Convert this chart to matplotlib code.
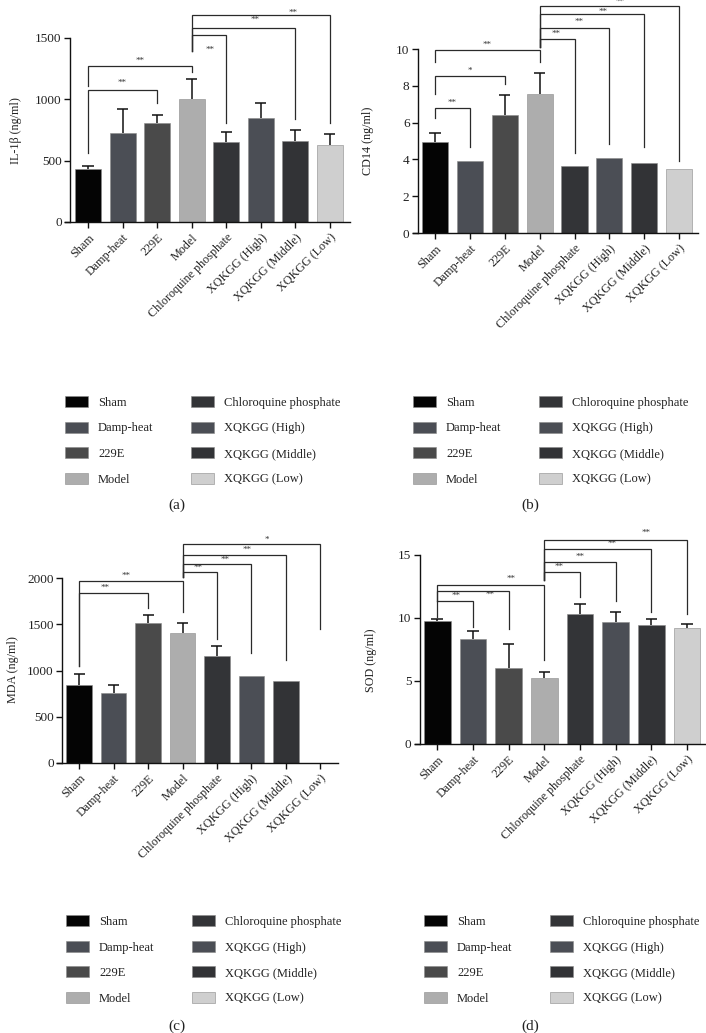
import matplotlib
matplotlib.use("Agg")
import matplotlib.pyplot as plt
from matplotlib.patches import Patch
import numpy as np

plt.rcParams['font.family'] = ['Liberation Serif', 'DejaVu Serif']

# ---------------- data ----------------
groups = ["Sham", "Damp-heat", "229E", "Model", "Chloroquine phosphate",
          "XQKGG (High)", "XQKGG (Middle)", "XQKGG (Low)"]
colors = ["#040404", "#4b4e55", "#4a4a4a", "#adadad", "#333437",
          "#4b4e55", "#323336", "#cfcfcf"]

il1b = [433, 723, 807, 1000, 656, 845, 661, 629]
il1b_err = [25, 200, 63, 163, 78, 128, 90, 92]

cd14 = [4.92, 3.90, 6.40, 7.55, 3.65, 4.08, 3.80, 3.50]
cd14_err = [0.53, 0, 1.10, 1.15, 0, 0, 0, 0]

mda = [846, 752, 1512, 1410, 1157, 944, 890, 0]
mda_err = [112, 91, 94, 109, 105, 0, 0, 0]

sod = [9.77, 8.34, 6.05, 5.20, 10.32, 9.66, 9.45, 9.19]
sod_err = [0.16, 0.64, 1.90, 0.48, 0.80, 0.79, 0.42, 0.34]

# significance brackets: (i, j, line height, leg i bottom, leg j bottom, label, label x, label y)
il1b_sig = [(0, 2, 1076, 560, 967, "**", 1.00, 1135),
            (0, 3, 1275, 1108, 1224, "**", 1.50, 1311),
            (3, 4, 1525, 1395, 804, "**", 3.53, 1400),
            (3, 6, 1584, 1395, 837, "**", 4.83, 1644),
            (3, 7, 1687, 1395, 804, "**", 5.94, 1703)]
cd14_sig = [(0, 1, 6.82, 6.23, 4.69, "**", 0.50, 7.08),
            (0, 2, 8.52, 7.53, 8.12, "*", 1.00, 8.81),
            (0, 3, 9.96, 9.30, 9.30, "**", 1.50, 10.23),
            (3, 4, 10.54, 10.10, 4.33, "**", 3.48, 10.83),
            (3, 5, 11.12, 10.10, 4.84, "**", 4.13, 11.46),
            (3, 6, 11.88, 10.10, 4.69, "**", 4.82, 12.04),
            (3, 7, 12.33, 10.10, 3.92, "**", 5.30, 12.55)]
mda_sig = [(0, 2, 1844, 1052, 1674, "**", 0.75, 1899),
           (0, 3, 1971, 1052, 1638, "**", 1.36, 2022),
           (3, 4, 2072, 2018, 1338, "**", 3.46, 2116),
           (3, 5, 2155, 2018, 1193, "**", 4.24, 2199),
           (3, 6, 2250, 2018, 1114, "**", 4.86, 2307),
           (3, 7, 2369, 2018, 1447, "*", 5.44, 2416)]
sod_sig = [(0, 1, 11.30, 10.09, 9.29, "**", 0.53, 11.72),
           (0, 2, 12.12, 11.30, 9.08, "**", 1.47, 11.80),
           (0, 3, 12.62, 11.30, 6.65, "**", 2.06, 13.07),
           (3, 4, 13.65, 12.99, 11.67, "**", 3.41, 14.00),
           (3, 5, 14.39, 12.99, 11.35, "**", 3.99, 14.79),
           (3, 6, 15.45, 12.99, 10.48, "**", 4.89, 15.84),
           (3, 7, 16.16, 12.99, 10.30, "**", 5.84, 16.69)]

# ---------------- layout ----------------
W, H = 706, 1033
fig = plt.figure(figsize=(W / 100, H / 100), dpi=100)


def rect(l, r, top, bot):
    return [l / W, 1 - bot / H, (r - l) / W, (bot - top) / H]


panels = [
    dict(vals=il1b, err=il1b_err, sig=il1b_sig, ylabel="IL-1β (ng/ml)",
         r=(65, 350, 38, 222), xlim=(-0.665, 7.58), spine=-0.52,
         ymax=1500, yticks=[0, 500, 1000, 1500], ylab_xy=(16, 131),
         leg_xy=(65, 396), tag="(a)", tag_xy=(177, 505)),
    dict(vals=cd14, err=cd14_err, sig=cd14_sig, ylabel="CD14 (ng/ml)",
         r=(413, 698, 49, 233), xlim=(-0.63, 7.54), spine=-0.49,
         ymax=10, yticks=[0, 2, 4, 6, 8, 10], ylab_xy=(368, 141),
         leg_xy=(413, 396), tag="(b)", tag_xy=(530, 505)),
    dict(vals=mda, err=mda_err, sig=mda_sig, ylabel="MDA (ng/ml)",
         r=(57, 338, 578.3, 762.7), xlim=(-0.64, 7.51), spine=-0.49,
         ymax=2000, yticks=[0, 500, 1000, 1500, 2000], ylab_xy=(13, 670),
         leg_xy=(66, 915), tag="(c)", tag_xy=(177, 1026)),
    dict(vals=sod, err=sod_err, sig=sod_sig, ylabel="SOD (ng/ml)",
         r=(414.7, 706, 554.7, 744), xlim=(-0.63, 7.53), spine=-0.49,
         ymax=15, yticks=[0, 5, 10, 15], ylab_xy=(371, 660),
         leg_xy=(424, 915), tag="(d)", tag_xy=(530, 1026)),
]

x = np.arange(len(groups))
line_c = "#2a2a2a"
for p in panels:
    ax = fig.add_axes(rect(*p["r"]))
    vals = np.array(p["vals"], dtype=float)
    err = np.array(p["err"], dtype=float)
    ax.bar(x, vals, width=0.75, color=colors, edgecolor="#8a8a8a",
           linewidth=0.4, zorder=2)
    m = err > 0
    ax.vlines(x[m], vals[m], vals[m] + err[m], color="#111111",
              linewidth=1.1, zorder=3)
    ax.hlines(vals[m] + err[m], x[m] - 0.16, x[m] + 0.16, color="#111111",
              linewidth=1.1, zorder=3)
    ax.set_xlim(*p["xlim"])
    ax.set_ylim(0, p["ymax"])
    for s in ["top", "right"]:
        ax.spines[s].set_visible(False)
    ax.spines["left"].set_position(("data", p["spine"]))
    ax.spines["left"].set_bounds(0, p["ymax"])
    for s in ["left", "bottom"]:
        ax.spines[s].set_linewidth(1.0)
        ax.spines[s].set_color("#111111")
    ax.set_yticks(p["yticks"])
    ax.set_yticklabels([str(t) for t in p["yticks"]], fontsize=9.5, color="#222222")
    ax.set_xticks(x)
    ax.set_xticklabels(groups, rotation=45, ha="right", va="top",
                       rotation_mode="anchor", fontsize=8.7, color="#222222")
    ax.tick_params(axis="both", length=4, width=1.0, color="#111111", pad=2)
    ax.tick_params(axis="x", pad=3)
    # brackets
    for (i, j, h, bi, bj, lab, lx, ly) in p["sig"]:
        ax.plot([x[i], x[i], x[j], x[j]], [bi, h, h, bj], color=line_c,
                linewidth=0.9, clip_on=False, zorder=4,
                solid_joinstyle="miter")
        ax.text(lx, ly, lab, ha="center", va="center", fontsize=6.5,
                color="#333333", clip_on=False)
    fig.text(p["ylab_xy"][0] / W, 1 - p["ylab_xy"][1] / H, p["ylabel"],
             rotation=90, ha="center", va="center", fontsize=8.7, color="#222222")
    handles = [Patch(facecolor=c, edgecolor="#8a8a8a", linewidth=0.4, label=g)
               for g, c in zip(groups, colors)]
    fig.legend(handles=handles, ncol=2, loc="upper left",
               bbox_to_anchor=(p["leg_xy"][0] / W, 1 - p["leg_xy"][1] / H),
               bbox_transform=fig.transFigure, frameon=False, fontsize=9,
               handlelength=1.85, handleheight=1.0, labelspacing=1.02,
               handletextpad=0.8, columnspacing=3.0, borderpad=0,
               borderaxespad=0, labelcolor="#222222")
    fig.text(p["tag_xy"][0] / W, 1 - p["tag_xy"][1] / H, p["tag"],
             ha="center", va="center", fontsize=11, color="#222222")

fig.savefig("out.png", dpi=100, facecolor="white")
